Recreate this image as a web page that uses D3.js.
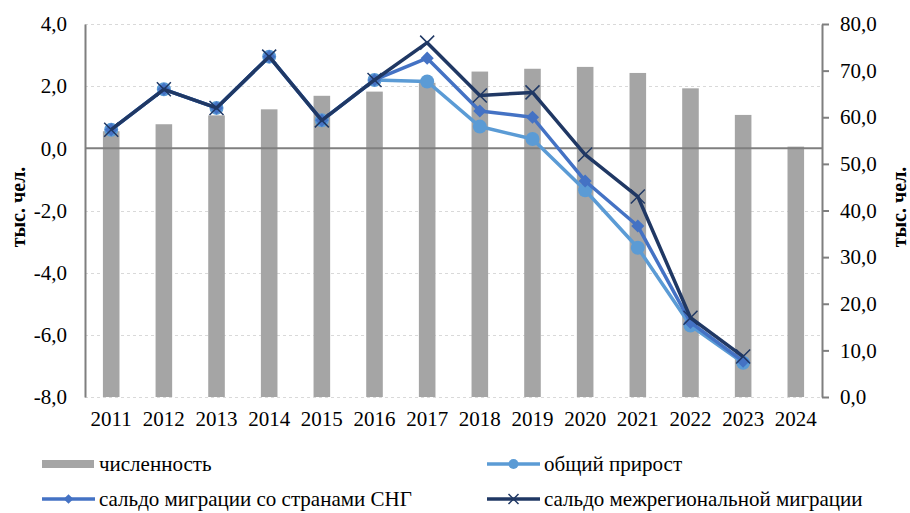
<!DOCTYPE html>
<html>
<head>
<meta charset="utf-8">
<script src="https://cdn.jsdelivr.net/npm/d3@7"></script>
<style>
  body { margin: 0; background: #fff; }
  svg text { fill: #000; }
</style>
</head>
<body>
<div id="chart"></div>
<script>
// data
const years = ["2011", "2012", "2013", "2014", "2015", "2016", "2017", "2018", "2019", "2020", "2021", "2022", "2023", "2024"];
const population = [57.0, 58.5, 60.4, 61.7, 64.6, 65.5, 67.4, 69.8, 70.4, 70.8, 69.5, 66.2, 60.5, 53.7];
const totalGrowth = [0.6, 1.9, 1.3, 2.95, 0.9, 2.2, 2.15, 0.7, 0.3, -1.35, -3.2, -5.7, -6.9, null];
const cisMigration = [0.6, 1.9, 1.3, 2.95, 0.9, 2.2, 2.9, 1.2, 1.0, -1.05, -2.5, -5.6, -6.85, null];
const interregMigration = [0.6, 1.9, 1.3, 2.95, 0.9, 2.2, 3.4, 1.7, 1.8, -0.2, -1.55, -5.45, -6.7, null];
const leftTicks = [-8, -6, -4, -2, 0, 2, 4];
const rightTicks = [0, 10, 20, 30, 40, 50, 60, 70, 80];
const seriesNames = ["численность", "общий прирост", "сальдо миграции со странами СНГ", "сальдо межрегиональной миграции"];

const W = 910, H = 513;
const margin = { top: 24, right: 88, bottom: 116, left: 85 };
const width = W - margin.left - margin.right;
const height = H - margin.top - margin.bottom;
const FONT = "Liberation Serif";

const svg = d3.select("#chart").append("svg")
    .attr("width", W)
    .attr("height", H)
    .style("font-family", FONT);

const g = svg.append("g")
    .attr("transform", `translate(${margin.left},${margin.top})`);

const x = d3.scaleBand().domain(years).range([0, width]).paddingInner(0.685).paddingOuter(0.34);
const yL = d3.scaleLinear().domain([-8, 4]).range([height, 0]);
const yR = d3.scaleLinear().domain([0, 80]).range([height, 0]);
const cx = d => x(d) + x.bandwidth() / 2;

const fmt = v => d3.format(".1f")(v).replace(".", ",").replace("−", "-");

// gridlines
g.selectAll(".grid")
    .data(leftTicks.filter(t => t !== 0))
    .join("line")
    .attr("class", "grid")
    .attr("x1", 0).attr("x2", width)
    .attr("y1", d => Math.round(yL(d)) + 0.5).attr("y2", d => Math.round(yL(d)) + 0.5)
    .attr("stroke", "#d9d9d9")
    .attr("stroke-dasharray", "3,3");

// bars
g.selectAll(".bar")
    .data(years)
    .join("rect")
    .attr("class", "bar")
    .attr("x", d => x(d))
    .attr("width", x.bandwidth())
    .attr("y", (d, i) => yR(population[i]))
    .attr("height", (d, i) => height - yR(population[i]))
    .attr("fill", "#a5a5a5");

// zero line
g.append("line")
    .attr("x1", 0).attr("x2", width)
    .attr("y1", yL(0)).attr("y2", yL(0))
    .attr("stroke", "#7f7f7f")
    .attr("stroke-width", 2);

// left axis
const leftAxis = g.append("g")
    .call(d3.axisLeft(yL).tickValues(leftTicks).tickSize(0).tickPadding(18).tickFormat(fmt))
    .attr("font-family", null);
leftAxis.select(".domain").attr("stroke", "#7f7f7f").attr("stroke-width", 2);
leftAxis.selectAll("text").style("font-size", "21px");

// right axis
const rightAxis = g.append("g")
    .attr("transform", `translate(${width},0)`)
    .call(d3.axisRight(yR).tickValues(rightTicks).tickSize(7).tickSizeOuter(0).tickPadding(11).tickFormat(fmt))
    .attr("font-family", null);
rightAxis.select(".domain").attr("stroke", "#7f7f7f").attr("stroke-width", 2);
rightAxis.selectAll(".tick line").attr("stroke", "#7f7f7f").attr("stroke-width", 2);
rightAxis.selectAll("text").style("font-size", "21px");

// x labels
g.append("g")
    .attr("transform", `translate(0,${height})`)
    .call(d3.axisBottom(x).tickSize(0).tickPadding(14))
    .attr("font-family", null)
    .call(a => a.select(".domain").remove())
    .selectAll("text").style("font-size", "21px");

// axis titles
svg.append("text")
    .attr("transform", `translate(25,207) rotate(-90)`)
    .style("text-anchor", "middle")
    .style("font-weight", "bold")
    .style("font-size", "20px")
    .text("тыс. чел.");

svg.append("text")
    .attr("transform", `translate(906,207) rotate(-90)`)
    .style("text-anchor", "middle")
    .style("font-weight", "bold")
    .style("font-size", "20px")
    .text("тыс. чел.");

// lines
const series = [
    { values: totalGrowth, color: "#5b9bd5", marker: "circle" },
    { values: cisMigration, color: "#4472c4", marker: "diamond" },
    { values: interregMigration, color: "#203864", marker: "x" }
];

const line = d3.line()
    .defined(d => d.v !== null)
    .x(d => cx(d.year))
    .y(d => yL(d.v));

function drawMarker(sel, type, color) {
    if (type === "circle") {
        sel.append("circle").attr("r", 7).attr("fill", color);
    } else if (type === "diamond") {
        sel.append("path").attr("d", d3.symbol(d3.symbolDiamond2, 110)()).attr("fill", color);
    } else {
        sel.append("path").attr("d", "M-7,-7L7,7M-7,7L7,-7").attr("stroke", color).attr("stroke-width", 1.5).attr("fill", "none");
    }
}

series.forEach(s => {
    const pts = years.map((year, i) => ({ year, v: s.values[i] }));
    g.append("path")
        .datum(pts)
        .attr("d", line)
        .attr("fill", "none")
        .attr("stroke", s.color)
        .attr("stroke-width", 3.5)
        .attr("stroke-linejoin", "round");
    pts.filter(p => p.v !== null).forEach(p => {
        const m = g.append("g").attr("transform", `translate(${cx(p.year)},${yL(p.v)})`);
        drawMarker(m, s.marker, s.color);
    });
});

// legend
const legendItems = [
    { name: seriesNames[0], x: 42, y: 464, type: "bar", color: "#a5a5a5" },
    { name: seriesNames[1], x: 487, y: 464, type: "circle", color: "#5b9bd5" },
    { name: seriesNames[2], x: 42, y: 499, type: "diamond", color: "#4472c4" },
    { name: seriesNames[3], x: 487, y: 499, type: "x", color: "#203864" }
];

legendItems.forEach(it => {
    const lg = svg.append("g").attr("transform", `translate(${it.x},${it.y})`);
    if (it.type === "bar") {
        lg.append("rect").attr("x", 0).attr("y", -4).attr("width", 52).attr("height", 8).attr("fill", it.color);
    } else {
        lg.append("line").attr("x1", 0).attr("x2", 53).attr("y1", 0).attr("y2", 0)
            .attr("stroke", it.color).attr("stroke-width", 3.5);
        const m = lg.append("g").attr("transform", "translate(26.5,0)");
        if (it.type === "circle") m.append("circle").attr("r", 5).attr("fill", it.color);
        else if (it.type === "diamond") m.append("path").attr("d", d3.symbol(d3.symbolDiamond2, 60)()).attr("fill", it.color);
        else m.append("path").attr("d", "M-5,-5L5,5M-5,5L5,-5").attr("stroke", it.color).attr("stroke-width", 1.5);
    }
    lg.append("text")
        .attr("x", 57)
        .attr("y", 0)
        .attr("dy", "0.35em")
        .style("font-size", "21px")
        .text(it.name);
});
</script>
</body>
</html>
